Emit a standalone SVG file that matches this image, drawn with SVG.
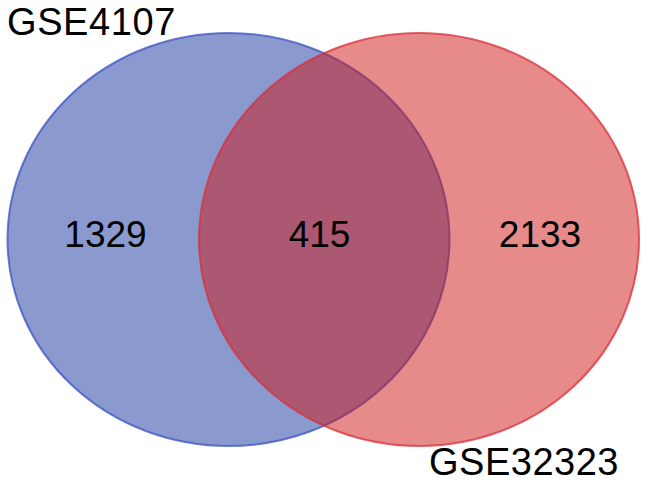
<svg xmlns="http://www.w3.org/2000/svg" width="650" height="484" viewBox="0 0 650 484">
<style>
  text { font-family: "Liberation Sans", Arial, sans-serif; fill: #000; }
  .lbl { font-size: 38px; letter-spacing: 0.6px; }
  .num { font-size: 37px; text-anchor: middle; }
  .set { stroke-width: 2; fill-opacity: 0.5; stroke-opacity: 0.75; }
</style>
<rect width="650" height="484" fill="#ffffff"/>
<g id="set-GSE4107">
  <ellipse class="set" cx="228.5" cy="239.5" rx="221" ry="206.5" fill="#15359F" stroke="#3A51C0"/>
</g>
<g id="set-GSE32323">
  <ellipse class="set" cx="419" cy="239.5" rx="220" ry="206.5" fill="#CD1515" stroke="#D8303A"/>
</g>
<g id="connectors"></g>
<g id="labels">
  <text class="lbl" x="7" y="35">GSE4107</text>
  <text class="lbl" x="429" y="475" textLength="190">GSE32323</text>
  <text class="num" x="105.5" y="247">1329</text>
  <text class="num" x="319.5" y="247">415</text>
  <text class="num" x="540" y="247">2133</text>
</g>
</svg>
